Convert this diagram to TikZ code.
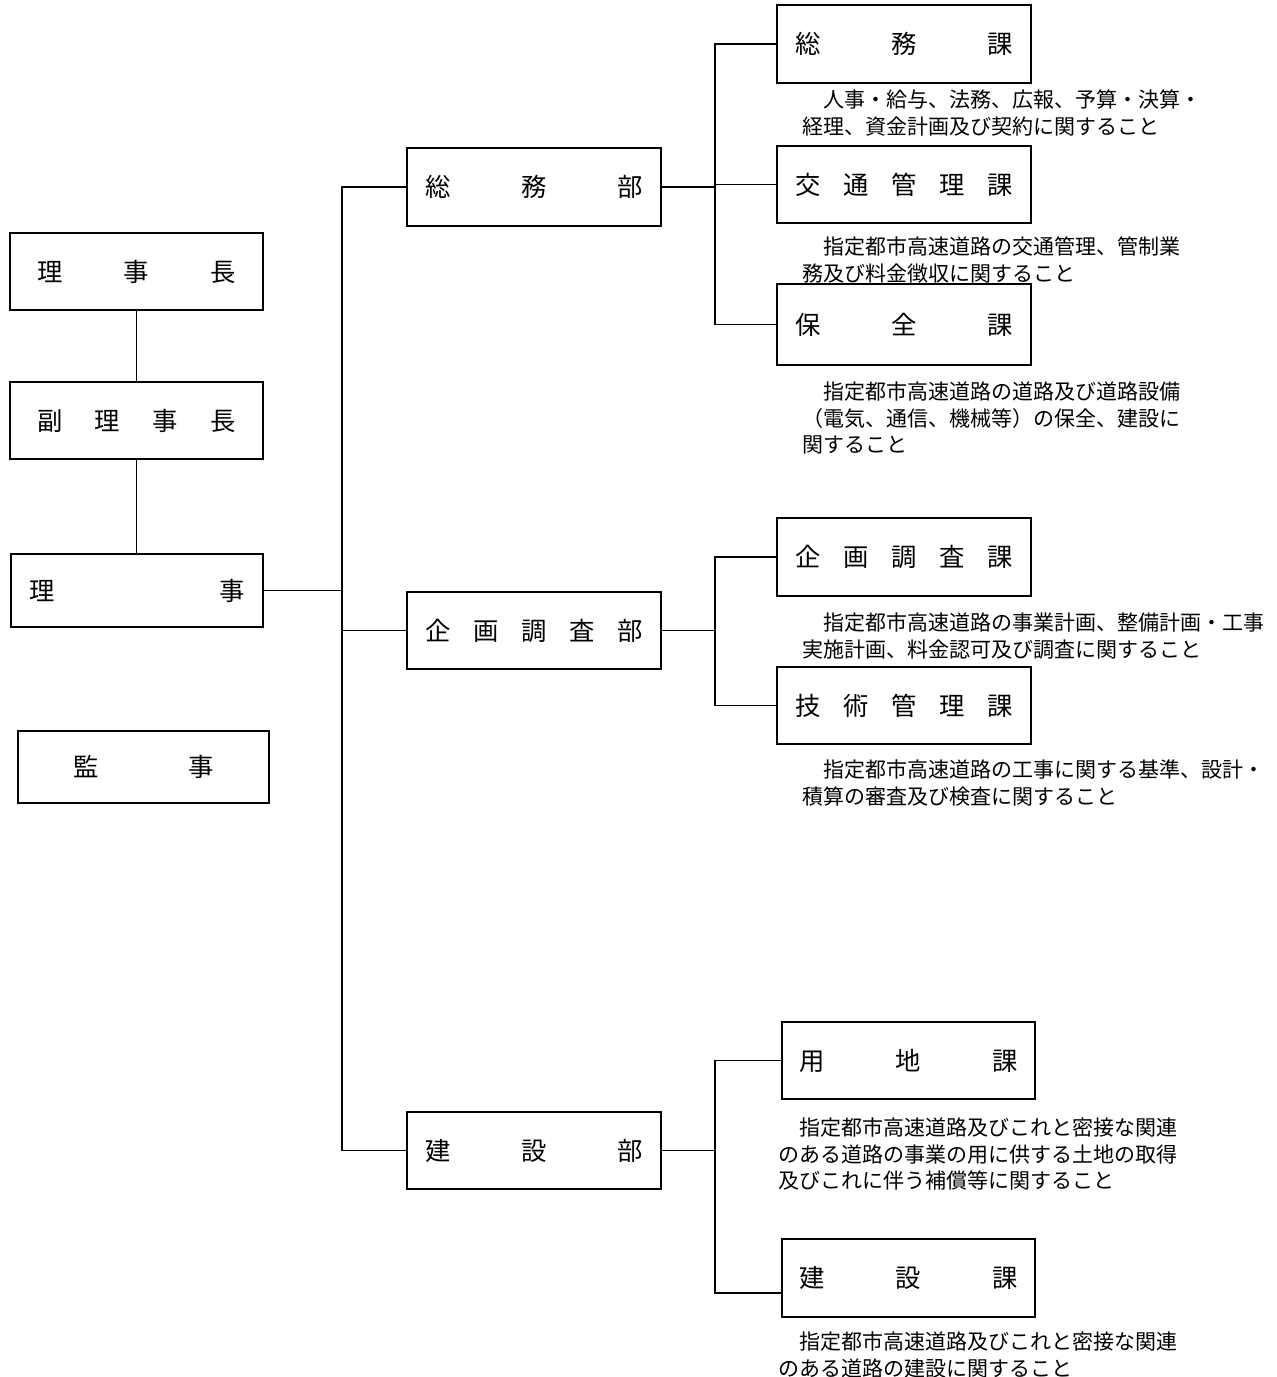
\documentclass[tikz,border=0pt]{standalone}
\usepackage{fontspec}
\newfontfamily\jp{Noto Sans CJK JP}
\usetikzlibrary{calc}
\newcommand\spreadtext[2]{\hbox to #1{#2}}
\begin{document}
\begin{tikzpicture}[x=0.75pt,y=-0.75pt,
  box/.style={draw,line width=1.4pt,rectangle,inner sep=0pt,minimum width=190.5pt,minimum height=58pt,font=\jp\fontsize{19pt}{22pt}\selectfont},
  desc/.style={anchor=north west,inner sep=0pt,align=left,font=\jp\fontsize{15.75pt}{19.9pt}\selectfont},
  conn/.style={line width=1.4pt}]
\useasboundingbox (0,0) rectangle (1277,1377);

% left column
\node[box,minimum width=189.75pt,minimum height=57.75pt] (rijicho) at (136.5,271.5) {\spreadtext{148.5pt}{理\hfill 事\hfill 長}};
\node[box,minimum width=189.75pt,minimum height=57.75pt] (fukuri) at (136.5,420.5) {\spreadtext{149.25pt}{副\hfill 理\hfill 事\hfill 長}};
\node[box,minimum width=189pt,minimum height=54.75pt] (riji) at (137,590.5) {\spreadtext{161.25pt}{理\hfill 事}};
\node[box,minimum width=188.25pt,minimum height=54pt] (kanji) at (143.5,767) {\spreadtext{105pt}{監\hfill 事}};

% departments
\node[box] (somubu) at (534,187) {\spreadtext{162.75pt}{総\hfill 務\hfill 部}};
\node[box,minimum height=57.75pt] (kikakubu) at (534,630.5) {\spreadtext{162.75pt}{企\hfill 画\hfill 調\hfill 査\hfill 部}};
\node[box,minimum height=57.75pt] (kensetsubu) at (534,1150.5) {\spreadtext{162.75pt}{建\hfill 設\hfill 部}};

% sections
\node[box] (somuka) at (904,44) {\spreadtext{163.5pt}{総\hfill 務\hfill 課}};
\node[box,minimum height=57.75pt] (kotsuka) at (904,184.5) {\spreadtext{163.5pt}{交\hfill 通\hfill 管\hfill 理\hfill 課}};
\node[box,minimum height=60.75pt] (hozenka) at (904,324.5) {\spreadtext{163.5pt}{保\hfill 全\hfill 課}};
\node[box] (kikakuka) at (904,557) {\spreadtext{163.5pt}{企\hfill 画\hfill 調\hfill 査\hfill 課}};
\node[box,minimum height=57.75pt] (gijutsuka) at (904,705.5) {\spreadtext{163.5pt}{技\hfill 術\hfill 管\hfill 理\hfill 課}};
\node[box,minimum width=189.75pt,minimum height=57.75pt] (yochika) at (908.5,1060.5) {\spreadtext{163.5pt}{用\hfill 地\hfill 課}};
\node[box,minimum width=189.75pt] (kensetsuka) at (908.5,1278) {\spreadtext{163.5pt}{建\hfill 設\hfill 課}};

% descriptions
\node[desc] (d1) at (802,89.5) {　人事・給与、法務、広報、予算・決算・\\経理、資金計画及び契約に関すること};
\node[desc] (d2) at (802,236.5) {　指定都市高速道路の交通管理、管制業\\務及び料金徴収に関すること};
\node[desc] (d3) at (802,381.5) {　指定都市高速道路の道路及び道路設備\\（電気、通信、機械等）の保全、建設に\\関すること};
\node[desc] (d4) at (802,612.5) {　指定都市高速道路の事業計画、整備計画・工事\\実施計画、料金認可及び調査に関すること};
\node[desc] (d5) at (802,759.5) {　指定都市高速道路の工事に関する基準、設計・\\積算の審査及び検査に関すること};
\node[desc] (d6) at (778,1117.5) {　指定都市高速道路及びこれと密接な関連\\のある道路の事業の用に供する土地の取得\\及びこれに伴う補償等に関すること};
\node[desc] (d7) at (778,1331.5) {　指定都市高速道路及びこれと密接な関連\\のある道路の建設に関すること};

% trunk coordinates
\coordinate (ta) at (342,0);
\coordinate (tb) at (715,0);
\coordinate (kc) at ($(kensetsuka.west)!0.38!(kensetsuka.south west)$);

% connectors
\draw[conn] (rijicho.south) -- (fukuri.north);
\draw[conn] (fukuri.south) -- (fukuri.south |- riji.north);
\draw[conn] (riji.east) -- (riji.east -| ta);
\draw[conn] (somubu.west) -| (ta |- kensetsubu.west) -- (kensetsubu.west);
\draw[conn] (kikakubu.west) -- (kikakubu.west -| ta);

\draw[conn] (somubu.east) -- (somubu.east -| tb);
\draw[conn] (somuka.west) -| (tb |- hozenka.west) -- (hozenka.west);
\draw[conn] (kotsuka.west) -- (kotsuka.west -| tb);

\draw[conn] (kikakubu.east) -- (kikakubu.east -| tb);
\draw[conn] (kikakuka.west) -| (tb |- gijutsuka.west) -- (gijutsuka.west);

\draw[conn] (kensetsubu.east) -- (kensetsubu.east -| tb);
\draw[conn] (yochika.west) -| (tb |- kc) -- (kc);
\end{tikzpicture}
\end{document}
